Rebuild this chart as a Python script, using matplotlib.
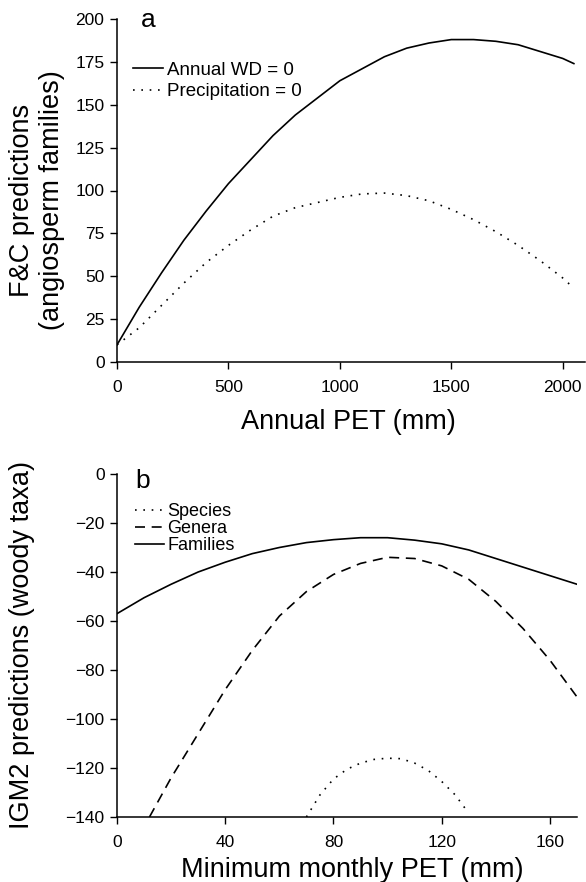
import numpy as np
import matplotlib
matplotlib.use("Agg")
import matplotlib.pyplot as plt

plt.rcParams['font.family'] = ['Liberation Sans', 'DejaVu Sans']

# panel a: F&C predictions against annual PET
pet_a = [0, 100, 200, 300, 400, 500, 600, 700, 800, 900, 1000, 1100,
         1200, 1300, 1400, 1500, 1600, 1700, 1800, 1900, 2000, 2050]
wd_zero = [10, 32, 52, 71, 88, 104, 118, 132, 144, 154, 164, 171,
           178, 183, 186, 188, 188, 187, 185, 181, 177, 174]
pet_prec = [0, 50, 100, 200, 300, 400, 500, 600, 700, 800, 900, 1000, 1100,
            1200, 1300, 1400, 1500, 1600, 1700, 1800, 1900, 2000, 2050]
prec_zero = [10, 15, 20, 33, 46, 58, 68, 77, 85, 90, 93, 96, 98,
             98.5, 97, 94, 89, 83, 76, 68, 59, 49, 43]

# panel b: IGM2 predictions against minimum monthly PET
pet_fam = [0, 10, 20, 30, 40, 50, 60, 70, 80, 90, 100, 110, 120, 130,
           140, 150, 160, 170]
families = [-57, -50.5, -45, -40, -36, -32.5, -30, -28, -26.8, -26, -26,
            -27, -28.5, -31, -34.5, -38, -41.5, -45]
pet_gen = [12, 20, 30, 40, 50, 60, 70, 80, 90, 100, 110, 120, 130, 140,
           150, 160, 170]
genera = [-140, -124, -106, -88, -72, -58, -48, -41, -36.5, -34, -34.5,
          -37.5, -43, -52, -63, -76, -91]
pet_sp = [70, 75, 80, 85, 90, 95, 100, 105, 110, 115, 120, 125, 129]
species = [-140, -131, -124.5, -120.5, -118, -116.5, -116, -116.2, -118,
           -121, -125.5, -131, -137]

W, H = 586, 882
fig = plt.figure(figsize=(W / 100, H / 100), dpi=100)


def fx(px):
    return px / W


def fy(py):
    return 1 - py / H


ax1 = fig.add_axes([fx(117), fy(362), (585 - 117) / W, (362 - 19) / H])
ax2 = fig.add_axes([fx(117), fy(817), (577 - 117) / W, (817 - 474) / H])

lw = 1.2
dots = (0, (1, 4))
dashes = (0, (6, 4))

ax1.plot(pet_a, wd_zero, color='black', lw=lw, label='Annual WD = 0')
ax1.plot(pet_prec, prec_zero, color='black', lw=lw, ls=dots,
         label='Precipitation = 0')
ax1.set_xlim(0, 2100)
ax1.set_ylim(0, 200)
ax1.set_xticks([0, 500, 1000, 1500, 2000])
ax1.set_yticks(np.arange(0, 201, 25))
ax1.legend(loc='upper left', bbox_to_anchor=(0.034, 0.876), frameon=False,
           fontsize=13.5, handlelength=1.6, handletextpad=0.2,
           labelspacing=0.25, borderaxespad=0, borderpad=0)

ax2.plot(pet_sp, species, color='black', lw=lw, ls=dots, label='Species')
ax2.plot(pet_gen, genera, color='black', lw=lw, ls=dashes, label='Genera')
ax2.plot(pet_fam, families, color='black', lw=lw, label='Families')
ax2.set_xlim(0, 170)
ax2.set_ylim(-140, 0)
ax2.set_xticks([0, 40, 80, 120, 160])
ax2.set_yticks(np.arange(-140, 1, 20))
ax2.legend(loc='upper left', bbox_to_anchor=(0.039, 0.915), frameon=False,
           fontsize=13, handlelength=1.6, handletextpad=0.2,
           labelspacing=0.0, borderaxespad=0, borderpad=0)

for ax in (ax1, ax2):
    for side in ('top', 'right'):
        ax.spines[side].set_visible(False)
    for side in ('left', 'bottom'):
        ax.spines[side].set_linewidth(1.1)
    ax.tick_params(direction='out', length=5, width=1.0, labelsize=12.5)
    ax.tick_params(axis='x', pad=8)
    ax.tick_params(axis='y', pad=4)

# axis titles and panel letters
fs = 19.5
fig.text(fx(348), fy(429), 'Annual PET (mm)', fontsize=fs,
         ha='center', va='baseline')
fig.text(fx(352), fy(877), 'Minimum monthly PET (mm)', fontsize=fs,
         ha='center', va='baseline')
fig.text(fx(22.5), fy(200), 'F&C predictions', fontsize=fs, rotation=90,
         ha='center', va='center')
fig.text(fx(52), fy(200), '(angiosperm families)', fontsize=fs, rotation=90,
         ha='center', va='center')
fig.text(fx(22), fy(645), 'IGM2 predictions (woody taxa)', fontsize=fs,
         rotation=90, ha='center', va='center')
fig.text(fx(141), fy(27), 'a', fontsize=19, ha='left', va='baseline')
fig.text(fx(135), fy(488), 'b', fontsize=19, ha='left', va='baseline')

fig.savefig('out.png', dpi=100)
